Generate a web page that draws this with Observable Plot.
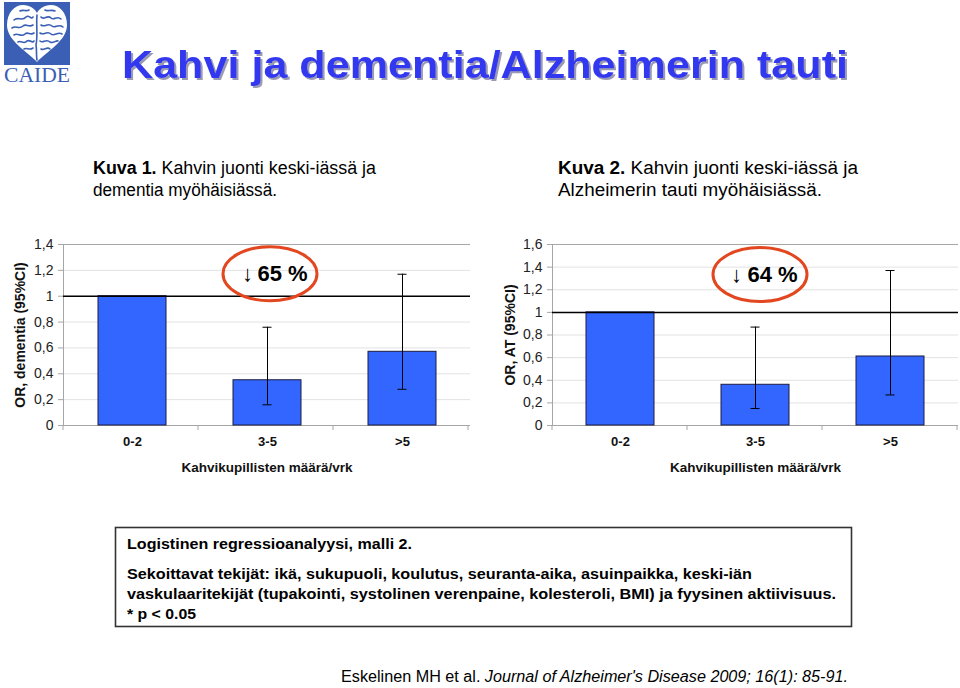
<!DOCTYPE html>
<html><head><meta charset="utf-8">
<script src="https://cdn.jsdelivr.net/npm/d3@7"></script>
<script src="https://cdn.jsdelivr.net/npm/@observablehq/plot@0.6"></script>
<style>
body{margin:0;width:960px;height:688px;overflow:hidden;background:#fff;font-family:"Liberation Sans",Arial,sans-serif;position:relative}
#overlay{position:absolute;left:0;top:0}
.chart{position:absolute}
</style></head><body>
<svg id="overlay" width="960" height="688" font-family="Liberation Sans, Arial, sans-serif">
  <defs>
    <filter id="shadow" x="-5%" y="-20%" width="110%" height="150%">
      <feDropShadow dx="2" dy="2" stdDeviation="0.6" flood-color="#9a9ab2" flood-opacity="1"/>
    </filter>
  </defs>
  <!-- CAIDE logo -->
  <rect x="4" y="2" width="66" height="63" fill="#3a5fb5"/>
  <path d="M37,62 C28,52 7,41 7,25 C7,12 15,5 23,5 C30,5 35,9 37,13 C39,9 44,5 51,5 C59,5 67,12 67,25 C67,41 46,52 37,62 Z" fill="#fff"/>
  <g fill="none" stroke="#3a5fb5" stroke-width="1.6" stroke-linecap="round">
    <path d="M37,15 C36,25 38,35 36,45 C37,50 36,55 37,60"/>
    <path d="M14,20 C18,16 22,22 26,17 C29,14 31,20 33,17"/>
    <path d="M12,28 C16,25 19,30 23,26 C26,23 29,28 33,25"/>
    <path d="M14,35 C18,32 21,38 25,34 C28,31 30,36 34,33"/>
    <path d="M18,42 C21,40 24,45 27,41 C30,39 32,44 34,41"/>
    <path d="M24,49 C27,47 29,51 33,48"/>
    <path d="M41,17 C44,21 47,14 51,18 C54,21 57,15 61,19"/>
    <path d="M41,25 C45,28 48,22 52,26 C55,29 58,23 63,27"/>
    <path d="M40,33 C44,36 47,30 51,34 C54,37 58,31 62,34"/>
    <path d="M40,41 C43,44 46,38 50,42 C53,44 56,40 58,41"/>
    <path d="M41,49 C44,51 47,46 50,49"/>
    <path d="M20,11 C23,9 26,12 29,10"/>
    <path d="M45,10 C48,12 51,9 55,11"/>
  </g>
  <text x="37" y="82" text-anchor="middle" font-family="Liberation Serif, DejaVu Serif, serif" font-size="21" fill="#3a5fb5" textLength="66" lengthAdjust="spacingAndGlyphs">CAIDE</text>

  <!-- Title with shadow -->
  <text x="122" y="78" font-size="38" font-weight="bold" fill="#3338f0" filter="url(#shadow)" textLength="726" lengthAdjust="spacingAndGlyphs">Kahvi ja dementia/Alzheimerin tauti</text>

  <!-- Subtitles -->
  <text x="93" y="174" font-size="18" fill="#000" textLength="283" lengthAdjust="spacingAndGlyphs"><tspan font-weight="bold">Kuva 1.</tspan> Kahvin juonti keski-iässä ja</text>
  <text x="93" y="196" font-size="18" fill="#000" textLength="184" lengthAdjust="spacingAndGlyphs">dementia myöhäisiässä.</text>
  <text x="558" y="174" font-size="18" fill="#000" textLength="300" lengthAdjust="spacingAndGlyphs"><tspan font-weight="bold">Kuva 2.</tspan> Kahvin juonti keski-iässä ja</text>
  <text x="558" y="196" font-size="18" fill="#000" textLength="264" lengthAdjust="spacingAndGlyphs">Alzheimerin tauti myöhäisiässä.</text>

  <!-- Note box -->
  <rect x="115.5" y="527.5" width="736" height="99" fill="none" stroke="#333" stroke-width="1.6"/>
  <g font-size="15" font-weight="bold" fill="#000">
    <text x="127" y="549" textLength="285" lengthAdjust="spacingAndGlyphs">Logistinen regressioanalyysi, malli 2.</text>
    <text x="127" y="579" textLength="625" lengthAdjust="spacingAndGlyphs">Sekoittavat tekijät: ikä, sukupuoli, koulutus, seuranta-aika, asuinpaikka, keski-iän</text>
    <text x="127" y="599" textLength="709" lengthAdjust="spacingAndGlyphs">vaskulaaritekijät (tupakointi, systolinen verenpaine, kolesteroli, BMI) ja fyysinen aktiivisuus.</text>
    <text x="127" y="619" textLength="69" lengthAdjust="spacingAndGlyphs">* p &lt; 0.05</text>
  </g>

  <!-- Citation -->
  <text x="341" y="682" font-size="16" fill="#000" textLength="507" lengthAdjust="spacingAndGlyphs">Eskelinen MH et al. <tspan font-style="italic">Journal of Alzheimer's Disease 2009; 16(1): 85-91.</tspan></text>
</svg>
<div id="c1" class="chart" style="left:0;top:230px"></div>
<div id="c2" class="chart" style="left:490px;top:230px"></div>
<script>
// ---- data ----
const categories = ["0-2", "3-5", ">5"];
const xTitle = "Kahvikupillisten määrä/vrk";

const orDementia = [1.0, 0.35, 0.57];
const ciLowDementia = [null, 0.16, 0.28];
const ciHighDementia = [null, 0.76, 1.17];
const yTicksDementia = [0, 0.2, 0.4, 0.6, 0.8, 1, 1.2, 1.4];
const yLabelDementia = "OR, dementia (95%CI)";
const reductionDementia = "65 %";

const orAT = [1.0, 0.36, 0.61];
const ciLowAT = [null, 0.15, 0.27];
const ciHighAT = [null, 0.87, 1.37];
const yTicksAT = [0, 0.2, 0.4, 0.6, 0.8, 1, 1.2, 1.4, 1.6];
const yLabelAT = "OR, AT (95%CI)";
const reductionAT = "64 %";

const referenceOR = 1;
const annotatedCategory = "3-5";

function makeChart(o) {
  const rows = categories.map((c, i) => ({c, or: o.ors[i], lo: o.lo[i], hi: o.hi[i]}));
  const ci = rows.filter(d => d.lo != null);
  const fmt = d => String(d).replace(".", ",");
  const ann = [{c: annotatedCategory, y: o.annY}];
  const yMax = o.ticks[o.ticks.length - 1];
  const chart = Plot.plot({
    width: o.width, height: 250,
    marginTop: 14, marginBottom: 55, marginLeft: o.mLeft, marginRight: o.mRight,
    style: {fontFamily: "Liberation Sans, Arial, sans-serif", background: "transparent", overflow: "visible"},
    x: {domain: categories, paddingInner: 0.5, paddingOuter: 0.25},
    y: {domain: [0, yMax]},
    marks: [
      Plot.gridY(o.ticks, {stroke: "#e2e2e2", strokeOpacity: 1}),
      Plot.ruleY([yMax], {stroke: "#a6a6a6"}),
      Plot.frame({anchor: "left", stroke: "#a6a6a6"}),
      Plot.ruleY([0], {stroke: "#a6a6a6"}),
      Plot.axisY(o.ticks, {tickFormat: fmt, tickSize: 5, tickPadding: 5, fontSize: 14, stroke: "#a6a6a6", fill: "#222", label: null}),
      Plot.axisX({tickSize: 0, tickPadding: 11, fontSize: 13, fontWeight: "bold", fill: "#111", label: null}),
      Plot.barY(rows, {x: "c", y: "or", fill: "#3366ff", stroke: "#1c1c40", strokeWidth: 1}),
      Plot.ruleX(ci, {x: "c", y1: "lo", y2: "hi", stroke: "#000", strokeWidth: 1}),
      Plot.tickY(ci, {x: "c", y: "lo", insetLeft: 29.5, insetRight: 29.5, stroke: "#000"}),
      Plot.tickY(ci, {x: "c", y: "hi", insetLeft: 29.5, insetRight: 29.5, stroke: "#000"}),
      Plot.ruleY([referenceOR], {stroke: "#000", strokeWidth: 1.5}),
      Plot.text([xTitle], {frameAnchor: "bottom", dy: 46, fontSize: 13.5, fontWeight: "bold", fill: "#111"}),
      Plot.text([o.ylabel], {frameAnchor: "left", textAnchor: "middle", dx: o.labelDx, rotate: -90, fontSize: 14, fontWeight: "bold", fill: "#111"}),
      Plot.text(ann, {x: "c", y: "y", text: () => "↓", dx: o.arrowDx, fontSize: 22, fill: "#000"}),
      Plot.text(ann, {x: "c", y: "y", text: () => o.reduction, dx: o.numDx, fontSize: 22, fontWeight: "bold", fill: "#000"})
    ]
  });
  const sx = chart.scale("x"), sy = chart.scale("y");
  const svg = d3.select(chart);
  // category separator ticks on the baseline
  const y0 = sy.apply(0);
  const start = sx.range[0];
  for (let i = 0; i <= categories.length; i++) {
    const xx = start + i * sx.step;
    svg.append("line").attr("x1", xx).attr("x2", xx).attr("y1", y0).attr("y2", y0 + 5).attr("stroke", "#a6a6a6");
  }
  svg.append("ellipse")
    .attr("cx", sx.apply(annotatedCategory) + sx.bandwidth / 2 + o.ellDx)
    .attr("cy", sy.apply(o.annY))
    .attr("rx", 47).attr("ry", 27)
    .attr("fill", "none").attr("stroke", "#e2471f").attr("stroke-width", 3);
  return chart;
}

document.getElementById("c1").append(makeChart({
  ors: orDementia, lo: ciLowDementia, hi: ciHighDementia, ticks: yTicksDementia,
  ylabel: yLabelDementia, reduction: reductionDementia, annY: 1.17,
  width: 480, mLeft: 63, mRight: 10, labelDx: -43, arrowDx: -20, numDx: 15, ellDx: 3
}));
document.getElementById("c2").append(makeChart({
  ors: orAT, lo: ciLowAT, hi: ciHighAT, ticks: yTicksAT,
  ylabel: yLabelAT, reduction: reductionAT, annY: 1.33,
  width: 470, mLeft: 62, mRight: 2, labelDx: -42, arrowDx: -19, numDx: 17, ellDx: 5
}));
</script>
</body></html>
